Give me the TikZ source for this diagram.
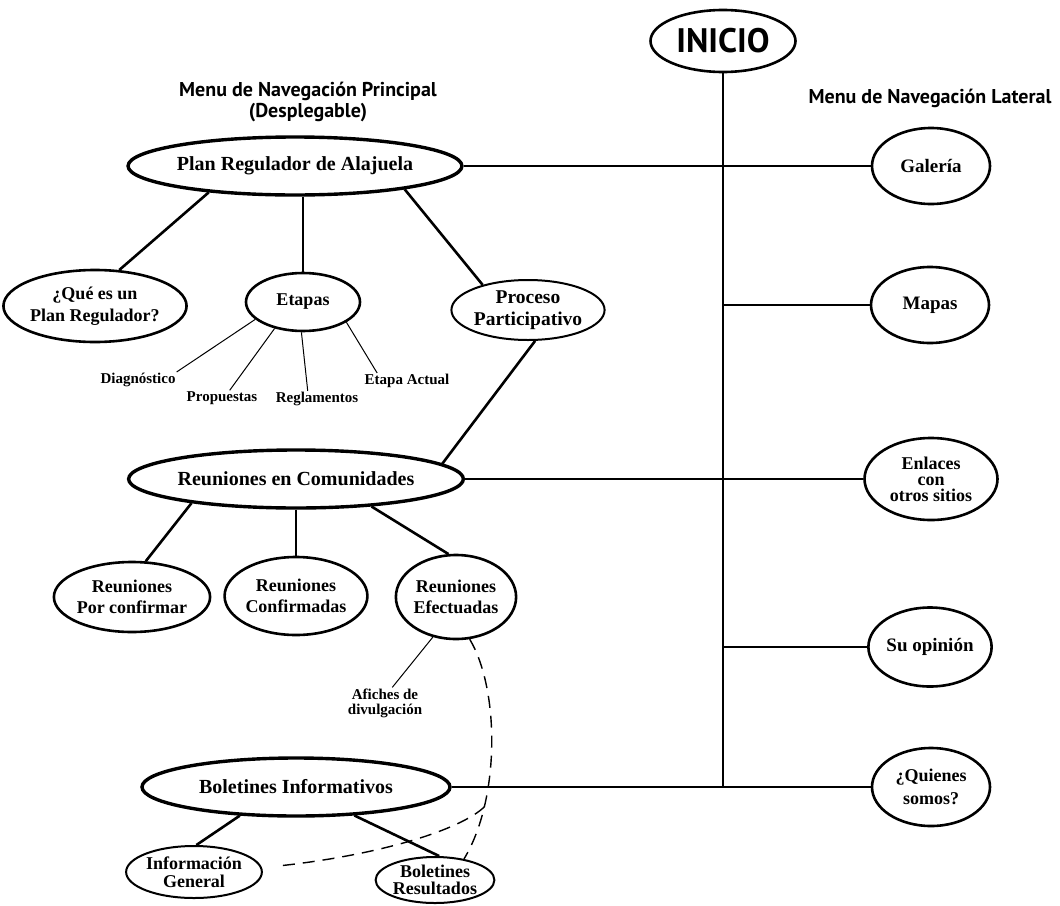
\documentclass[tikz,border=0pt]{standalone}
\usepackage{fontspec}
\setmainfont{Liberation Serif}
\newfontfamily\headfont{PT Sans}
\usetikzlibrary{shapes.geometric}

\begin{document}
\begin{tikzpicture}[x=1pt, y=-1pt,
    oval/.style 2 args={draw, ellipse, line width=2.6pt, minimum width=#1pt, minimum height=#2pt, inner sep=0pt, align=center, font=\bfseries\fontsize{18}{21.5}\selectfont},
    mainoval/.style={line width=3.4pt, font=\bfseries\fontsize{20}{24}\selectfont},
    sideoval/.style={font=\bfseries\fontsize{19}{22}\selectfont},
    smalllabel/.style={inner sep=1pt, align=center, font=\bfseries\fontsize{15}{15}\selectfont},
    heading/.style={align=center, inner sep=0pt, font=\headfont\bfseries\fontsize{20}{21}\selectfont},
    link/.style={line width=2.6pt},
    thinlink/.style={line width=1pt},
    dashlink/.style={line width=1.4pt, dash pattern=on 12pt off 8pt}]
    \useasboundingbox (0,0) rectangle (1060,905);
    % inicio y menu lateral
    \node[oval={145}{62}, font=\headfont\bfseries\fontsize{34}{34}\selectfont] (inicio) at (723,41) {INICIO};
    \node[heading] (lateral) at (930,98) {Menu de Navegación Lateral};
    \node[oval={118}{76}, sideoval] (galeria) at (931,166) {Galería};
    \node[oval={118}{76}, sideoval] (mapas) at (930,305) {Mapas};
    \node[oval={133}{82}, sideoval, font=\bfseries\fontsize{18}{16}\selectfont] (enlaces) at (931,479) {Enlaces\\con\\otros sitios};
    \node[oval={118}{79}, sideoval] (opinion) at (930,647) {Su opinión};
    \node[oval={118}{78}, sideoval, font=\bfseries\fontsize{18}{23}\selectfont] (quienes) at (931,787) {¿Quienes\\somos?};
    % menu principal
    \node[heading] (principal) at (308,102) {Menu de Navegación Principal\\(Desplegable)};
    \node[oval={300}{58}, mainoval] (plan) at (295,166) {Plan Regulador de Alajuela};
    \node[oval={172}{72}] (que) at (95,306) {¿Qué es un\\Plan Regulador?};
    \node[oval={114}{58}] (etapas) at (303,302) {Etapas};
    \node[oval={152}{60}, line width=2pt, font=\bfseries\fontsize{19.5}{22}\selectfont] (proceso) at (528,310) {Proceso\\Participativo};
    \node[smalllabel] (diag) at (138,380) {Diagnóstico};
    \node[smalllabel] (prop) at (222,398) {Propuestas};
    \node[smalllabel] (regl) at (317,399) {Reglamentos};
    \node[smalllabel] (actual) at (407,381) {Etapa Actual};
    \node[oval={308}{58}, mainoval] (reucom) at (296,479) {Reuniones en Comunidades};
    \node[oval={144}{70}] (rpc) at (132,597) {Reuniones\\Por confirmar};
    \node[oval={114}{78}] (rconf) at (296,596) {Reuniones\\Confirmadas};
    \node[oval={108}{84}] (ref) at (456,597) {Reuniones\\Efectuadas};
    \node[smalllabel] (afiches) at (385,703) {Afiches de\\divulgación};
    \node[oval={308}{58}, mainoval] (bolinf) at (296,787) {Boletines Informativos};
    \node[oval={116}{52}, line width=2pt, font=\bfseries\fontsize{18}{18}\selectfont] (ig) at (194,872) {Información\\General};
    \node[oval={116}{46}, line width=2pt, font=\bfseries\fontsize{18}{17}\selectfont] (br) at (435,880) {Boletines\\Resultados};
    \coordinate (igend) at (278,866);
    % tronco y ramas laterales
    \draw[link] (inicio.south) -- (inicio.south |- quienes.west);
    \draw[link] (plan.east) -- (galeria.west);
    \draw[link] (inicio.south |- mapas.west) -- (mapas.west);
    \draw[link] (reucom.east) -- (enlaces.west);
    \draw[link] (inicio.south |- opinion.west) -- (opinion.west);
    \draw[link] (bolinf.east) -- (quienes.west);
    % ramas del menu principal
    \draw[link] (plan.197) -- (que.56);
    \draw[link] (etapas.north |- plan.south) -- (etapas.north);
    \draw[link] (plan.-12) -- (proceso.151);
    \draw[link] (proceso.-77) -- (reucom.6);
    \draw[thinlink] (etapas.200) -- (diag.north east);
    \draw[thinlink] (etapas.223) -- (prop.45);
    \draw[thinlink] (etapas.267) -- (regl.139);
    \draw[thinlink] (etapas.-25) -- (actual.165);
    \draw[link] (reucom.193) -- (rpc.69);
    \draw[link] (reucom) -- (rconf);
    \draw[link] (reucom.-20) -- (ref.100);
    \draw[thinlink] (ref.240) -- (afiches.65);
    \draw[link] (bolinf.207) -- (ig.85);
    \draw[link] (bolinf.-26) -- (br.80);
    \draw[dashlink] (ref.-72) .. controls (500,690) and (500,800) .. coordinate[pos=0.75] (split) (br.36);
    \draw[dashlink] (split) .. controls (460,830) and (380,855) .. (igend);
\end{tikzpicture}
\end{document}
